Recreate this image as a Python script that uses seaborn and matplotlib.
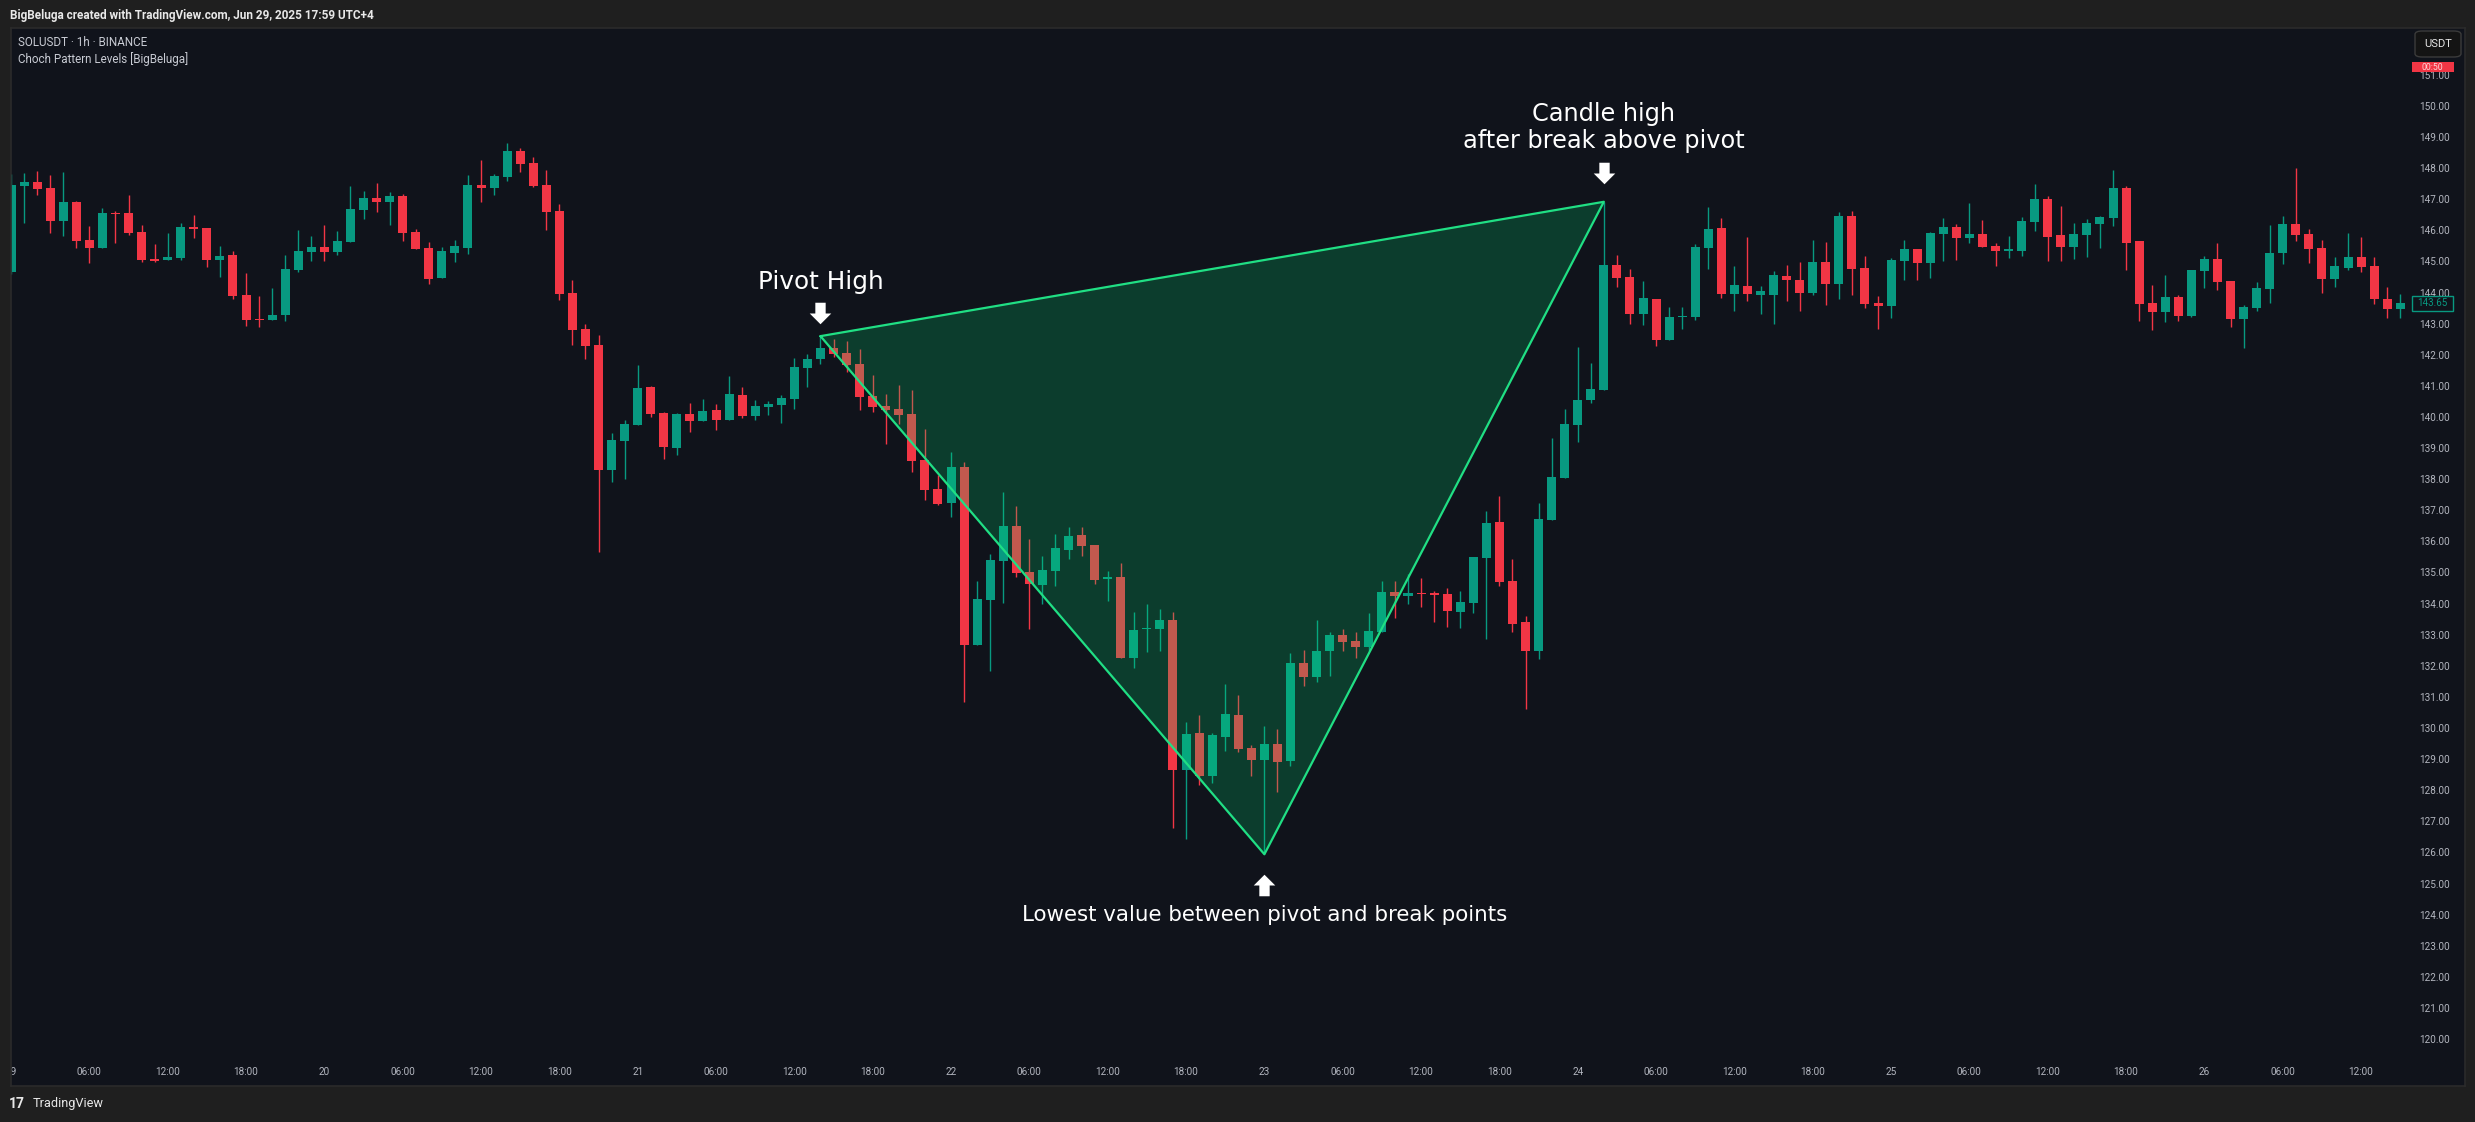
import numpy as np
import pandas as pd
import matplotlib
matplotlib.use("Agg")
import matplotlib.pyplot as plt
import matplotlib.transforms as mtransforms
from matplotlib.patches import Rectangle, FancyBboxPatch
import seaborn as sns

# SOLUSDT 1h candles, Jun 19 00:00 -> Jun 26 15:00
opens = [144.67, 147.44, 147.56, 147.36, 146.31, 146.91, 145.69, 145.43, 146.56, 146.56,
         145.95, 145.08, 145.05, 145.11, 146.11, 146.08, 145.05, 145.21, 143.92, 143.15,
         143.12, 143.28, 144.73, 145.31, 145.47, 145.31, 145.63, 146.66, 147.04, 146.91,
         147.11, 145.95, 145.43, 144.47, 145.27, 145.43, 147.46, 147.37, 147.72, 148.55,
         148.17, 147.46, 146.62, 143.98, 142.83, 142.32, 138.30, 139.23, 139.74, 140.97,
         140.13, 139.00, 140.10, 139.87, 140.23, 139.90, 140.71, 140.03, 140.32, 140.39,
         140.58, 141.58, 141.85, 142.22, 142.06, 141.71, 140.68, 140.35, 140.26, 140.09,
         138.62, 137.69, 137.24, 138.39, 132.68, 134.12, 135.38, 136.50, 135.02, 134.60,
         135.06, 135.72, 136.20, 135.88, 134.78, 134.86, 132.26, 133.19, 133.19, 133.47,
         128.66, 129.83, 128.46, 129.72, 130.42, 129.36, 128.97, 129.49, 128.95, 132.09,
         131.65, 132.46, 132.99, 132.80, 132.62, 133.10, 134.37, 134.26, 134.35, 134.32,
         134.31, 133.74, 134.03, 135.48, 136.62, 134.73, 133.41, 132.46, 136.70, 138.05,
         139.75, 140.56, 140.88, 144.89, 144.50, 143.30, 143.79, 142.46, 143.20, 143.22,
         145.45, 146.08, 143.97, 144.21, 143.93, 143.93, 144.53, 144.40, 144.00, 144.99,
         144.29, 146.46, 144.80, 143.67, 143.58, 145.03, 145.41, 144.96, 145.90, 146.11,
         145.76, 145.89, 145.50, 145.35, 145.34, 146.27, 147.01, 145.85, 145.47, 145.85,
         146.21, 146.40, 147.36, 145.66, 143.66, 143.38, 143.86, 143.25, 144.70, 145.08,
         144.37, 143.15, 143.50, 144.12, 145.27, 146.21, 145.88, 145.43, 144.44, 144.79,
         145.14, 144.86, 143.79, 143.47]
highs = [147.80, 147.85, 147.91, 147.78, 147.88, 146.94, 146.14, 146.72, 146.62, 147.14,
         146.17, 145.56, 145.92, 146.24, 146.50, 146.08, 145.50, 145.34, 144.63, 143.89,
         144.15, 145.21, 146.01, 145.82, 146.17, 145.98, 147.43, 147.27, 147.52, 147.23,
         147.17, 146.05, 145.63, 145.47, 145.69, 147.78, 148.26, 147.81, 148.81, 148.65,
         148.36, 147.94, 146.85, 144.41, 142.99, 142.64, 139.49, 139.90, 141.67, 141.00,
         140.16, 140.13, 140.45, 140.58, 140.42, 141.32, 140.96, 140.55, 140.51, 140.71,
         141.90, 142.03, 142.60, 142.52, 142.43, 142.19, 141.35, 140.75, 141.03, 140.87,
         139.61, 138.12, 138.86, 138.54, 134.73, 135.59, 137.59, 137.14, 136.08, 135.53,
         136.24, 136.46, 136.46, 135.88, 135.05, 135.30, 133.72, 133.99, 133.83, 133.72,
         130.19, 130.42, 129.83, 131.41, 131.07, 129.45, 130.05, 129.97, 132.41, 132.51,
         133.47, 133.09, 133.18, 133.09, 133.70, 134.73, 134.73, 134.95, 134.82, 134.41,
         134.50, 134.41, 135.50, 136.98, 137.46, 135.43, 133.60, 137.24, 139.33, 140.26,
         142.25, 141.73, 146.92, 145.20, 144.76, 144.38, 143.79, 143.54, 143.54, 145.56,
         146.75, 146.40, 144.86, 145.79, 144.21, 144.70, 144.89, 144.99, 145.69, 145.62,
         146.59, 146.63, 145.18, 143.89, 145.11, 145.69, 145.41, 145.95, 146.40, 146.21,
         146.88, 146.34, 145.60, 145.82, 146.43, 147.49, 147.11, 146.78, 146.24, 146.37,
         146.46, 147.94, 147.43, 145.66, 144.24, 144.57, 143.92, 144.73, 145.18, 145.59,
         144.37, 143.60, 144.34, 146.17, 146.46, 148.01, 146.05, 145.69, 145.14, 145.92,
         145.79, 145.14, 144.18, 143.95]
lows = [144.60, 146.25, 147.14, 145.92, 145.82, 145.43, 144.95, 145.43, 145.59, 145.85,
        144.98, 144.98, 145.05, 145.05, 145.76, 144.82, 144.50, 143.79, 142.93, 142.89,
        143.12, 143.09, 144.66, 145.02, 145.02, 145.21, 145.63, 146.37, 146.59, 146.17,
        145.66, 145.40, 144.28, 144.47, 144.98, 145.24, 146.91, 147.14, 147.59, 147.88,
        147.40, 146.01, 143.76, 142.32, 141.87, 135.66, 137.91, 138.01, 139.74, 140.00,
        138.65, 138.78, 139.52, 139.87, 139.58, 139.90, 139.97, 139.90, 140.06, 139.81,
        140.26, 140.96, 141.72, 141.94, 141.45, 140.22, 140.16, 139.13, 139.78, 138.24,
        137.33, 137.17, 136.79, 130.84, 132.66, 131.84, 134.03, 134.86, 133.19, 134.00,
        134.56, 135.44, 135.54, 134.63, 134.09, 132.24, 131.92, 132.43, 132.49, 126.77,
        126.44, 128.18, 128.24, 129.26, 129.22, 128.46, 125.94, 127.95, 128.79, 131.36,
        131.49, 131.68, 132.49, 132.26, 132.49, 133.10, 133.55, 134.00, 133.90, 133.42,
        133.26, 133.23, 133.71, 132.87, 134.55, 133.10, 130.62, 132.23, 136.70, 138.05,
        139.19, 140.46, 140.88, 144.19, 143.00, 142.97, 142.29, 142.46, 142.84, 143.13,
        144.77, 143.84, 143.42, 143.72, 143.30, 143.00, 143.72, 143.42, 143.91, 143.61,
        143.78, 143.91, 143.49, 142.84, 143.19, 144.42, 144.39, 144.48, 145.03, 145.05,
        145.61, 145.47, 144.86, 145.11, 145.18, 145.98, 145.02, 145.02, 145.08, 145.14,
        145.43, 146.14, 144.73, 143.09, 142.80, 143.05, 143.09, 143.21, 144.15, 144.08,
        142.89, 142.22, 143.41, 143.67, 144.92, 145.66, 144.95, 143.99, 144.18, 144.73,
        144.66, 143.63, 143.18, 143.18]
closes = [147.46, 147.56, 147.33, 146.31, 146.91, 145.66, 145.43, 146.56, 146.54, 145.92,
          145.05, 145.02, 145.14, 146.11, 146.04, 145.05, 145.18, 143.89, 143.12, 143.13,
          143.28, 144.76, 145.34, 145.47, 145.31, 145.66, 146.69, 147.04, 146.91, 147.11,
          145.92, 145.40, 144.44, 145.34, 145.50, 147.46, 147.37, 147.75, 148.55, 148.13,
          147.43, 146.59, 143.95, 142.80, 142.28, 138.30, 139.26, 139.78, 140.93, 140.10,
          139.04, 140.10, 139.87, 140.19, 139.90, 140.74, 140.03, 140.35, 140.42, 140.61,
          141.61, 141.87, 142.22, 142.04, 141.67, 140.65, 140.32, 140.22, 140.07, 138.58,
          137.65, 137.21, 138.39, 132.68, 134.14, 135.40, 136.50, 134.98, 134.63, 135.08,
          135.78, 136.18, 135.86, 134.77, 134.86, 132.26, 133.14, 133.23, 133.47, 128.66,
          129.81, 128.46, 129.77, 130.46, 129.32, 128.97, 129.49, 128.92, 132.09, 131.65,
          132.48, 132.99, 132.78, 132.62, 133.12, 134.37, 134.26, 134.34, 134.32, 134.29,
          133.77, 134.05, 135.50, 136.59, 134.71, 133.36, 132.46, 136.72, 138.07, 139.77,
          140.55, 140.91, 144.89, 144.48, 143.30, 143.83, 142.46, 143.22, 143.25, 145.47,
          146.04, 143.97, 144.25, 143.97, 144.05, 144.57, 144.39, 144.00, 144.99, 144.29,
          146.46, 144.76, 143.64, 143.58, 145.05, 145.41, 144.96, 145.92, 146.11, 145.76,
          145.89, 145.47, 145.34, 145.39, 146.30, 147.01, 145.79, 145.47, 145.88, 146.24,
          146.43, 147.36, 145.59, 143.63, 143.38, 143.86, 143.25, 144.73, 145.08, 144.34,
          143.15, 143.54, 144.15, 145.27, 146.21, 145.85, 145.40, 144.44, 144.86, 145.14,
          144.82, 143.79, 143.47, 143.65]

first_day = 19
pivot_idx = 62      # pivot high candle
break_idx = 122     # candle that broke above the pivot
last_price = 143.65
price_ticks = list(range(120, 152))

df = pd.DataFrame({"open": opens, "high": highs, "low": lows, "close": closes})
df["up"] = df["close"] >= df["open"]

# colours
OUTER = "#1f1f1f"
PANEL = "#10131b"
UP = "#089981"
DOWN = "#f23645"
TRI = "#00e676"
TRI_LINE = "#20df84"
AXTXT = "#b2b5be"

sns.set_theme(style="dark", rc={"axes.facecolor": PANEL, "figure.facecolor": OUTER,
                                "axes.grid": False})
plt.rcParams["font.family"] = ["Roboto", "DejaVu Sans"]

W, H, DPI = 2475, 1122, 100
fig = plt.figure(figsize=(W / DPI, H / DPI), dpi=DPI, facecolor=OUTER)


def px_rect(x0, y0, x1, y1):
    return [x0 / W, 1 - y1 / H, (x1 - x0) / W, (y1 - y0) / H]


ax = fig.add_axes(px_rect(11, 28, 2465, 1086))
ax.set_facecolor(PANEL)

# pixel scale of the reference chart
bar_px, bar0_px = 13.08, 6.5
usd_px, y150_px = 31.1, 106
ax.set_xlim((11 - bar0_px) / bar_px, (2465 - bar0_px) / bar_px)
ax.set_ylim(150 - (1086 - y150_px) / usd_px, 150 + (y150_px - 28) / usd_px)

# candles
colors = np.where(df["up"], UP, DOWN)
ax.vlines(df.index, df["low"], df["high"], colors=colors, lw=1.0, zorder=2)
body = np.maximum((df["close"] - df["open"]).abs(), 0.035)
ax.bar(df.index, body, bottom=np.minimum(df["open"], df["close"]), width=0.69,
       color=colors, linewidth=0, zorder=2.5)

# CHoCH triangle: pivot high -> lowest low -> break candle high
seg = df["low"].iloc[pivot_idx:break_idx + 1]
low_idx = int(seg.idxmin())
tri_x = [pivot_idx, low_idx, break_idx]
tri_y = [df["high"][pivot_idx], df["low"][low_idx], df["high"][break_idx]]
ax.fill(tri_x, tri_y, color=TRI, alpha=0.2, lw=0, zorder=3)
ax.plot(tri_x + [tri_x[0]], tri_y + [tri_y[0]], color=TRI_LINE, lw=1.6, zorder=4)

# labels and arrows
down_arrow = [(-0.48, 1), (0.48, 1), (0.48, 0), (1, 0), (0, -1), (-1, 0), (-0.48, 0), (-0.48, 1)]
up_arrow = [(x, -y) for x, y in down_arrow]
ax.plot(pivot_idx, tri_y[0] + 0.76, marker=down_arrow, ms=15.5, color="white", mew=0, zorder=5)
ax.plot(break_idx, tri_y[2] + 0.94, marker=down_arrow, ms=15.5, color="white", mew=0, zorder=5)
ax.plot(low_idx, tri_y[1] - 0.99, marker=up_arrow, ms=15.5, color="white", mew=0, zorder=5)

lab = dict(color="white", ha="center", va="baseline", family="DejaVu Sans", zorder=6)
ax.text(pivot_idx, tri_y[0] + 1.52, "Pivot High", fontsize=17.8, **lab)
ax.text(break_idx, tri_y[2] + 2.60, "Candle high", fontsize=17.3, **lab)
ax.text(break_idx, tri_y[2] + 1.72, "after break above pivot", fontsize=17.3, **lab)
ax.text(low_idx, tri_y[1] - 2.14, "Lowest value between pivot and break points", fontsize=15.4, **lab)

# axes: time and price scales drawn inside the panel
xt = list(range(0, len(df), 6))
ax.set_xticks(xt)
ax.set_xticklabels([str(first_day + i // 24) if i % 24 == 0 else f"{i % 24:02d}:00" for i in xt])
ax.set_yticks(price_ticks)
ax.set_yticklabels([f"{v:.2f}" for v in price_ticks])
ax.yaxis.tick_right()
ax.tick_params(axis="y", length=0, pad=-33, labelsize=7.2, labelcolor=AXTXT)
ax.tick_params(axis="x", length=0, pad=-13.4, labelsize=7.2, labelcolor=AXTXT)
for s in ax.spines.values():
    s.set_color("#2b2b2b")
    s.set_linewidth(1.2)

# last price tag and countdown box
blend = mtransforms.blended_transform_factory(ax.transAxes, ax.transData)
tag_x0, tag_w = (2412 - 11) / 2454, 41 / 2454
ax.add_patch(Rectangle((tag_x0, last_price - 0.24), tag_w, 0.48, transform=blend,
                       facecolor=PANEL, edgecolor=UP, lw=1.0, zorder=6, clip_on=False))
ax.text(tag_x0 + tag_w / 2, last_price, f"{last_price:.2f}", transform=blend, color=UP,
        fontsize=7, ha="center", va="center", zorder=7)
ax.add_patch(Rectangle((tag_x0, 151.09), tag_w + 0.0004, 0.33, transform=blend,
                       facecolor=DOWN, lw=0, zorder=6, clip_on=False))
ax.text(tag_x0 + tag_w / 2, 151.25, "00:50", transform=blend, color="#fbd5d9",
        fontsize=6.3, ha="center", va="center", zorder=7)

# frame bits drawn over the panel
fig.add_artist(Rectangle((0, 0), 10 / W, 1, transform=fig.transFigure,
                         facecolor=OUTER, lw=0, zorder=10))
fig.add_artist(FancyBboxPatch((2415 / W, 1 - 57 / H), 46 / W, 26 / H,
                              boxstyle="round,pad=0,rounding_size=0.003",
                              transform=fig.transFigure, facecolor="#141414",
                              edgecolor="#3b3b3b", lw=1.0, zorder=10))
fig.text(2438 / W, 1 - 44 / H, "USDT", color="#e6e6e6", fontsize=8, ha="center",
         va="center", zorder=11)

fig.text(10 / W, 1 - 15 / H, "BigBeluga created with TradingView.com, Jun 29, 2025 17:59 UTC+4",
         color="#e8e8e8", fontsize=8.5, fontweight="bold", ha="left", va="center")
fig.text(18 / W, 1 - 42 / H, "SOLUSDT · 1h · BINANCE", color="#c9ccd4", fontsize=8.4,
         ha="left", va="center")
fig.text(18 / W, 1 - 59 / H, "Choch Pattern Levels [BigBeluga]", color="#c9ccd4",
         fontsize=8.4, ha="left", va="center")
fig.text(9 / W, 1 - 1104 / H, "17", color="#e8e8e8", fontsize=10, fontweight="bold",
         ha="left", va="center")
fig.text(33 / W, 1 - 1104 / H, "TradingView", color="#e8e8e8", fontsize=9.2,
         ha="left", va="center")

fig.savefig("out.png", dpi=DPI, facecolor=OUTER)
